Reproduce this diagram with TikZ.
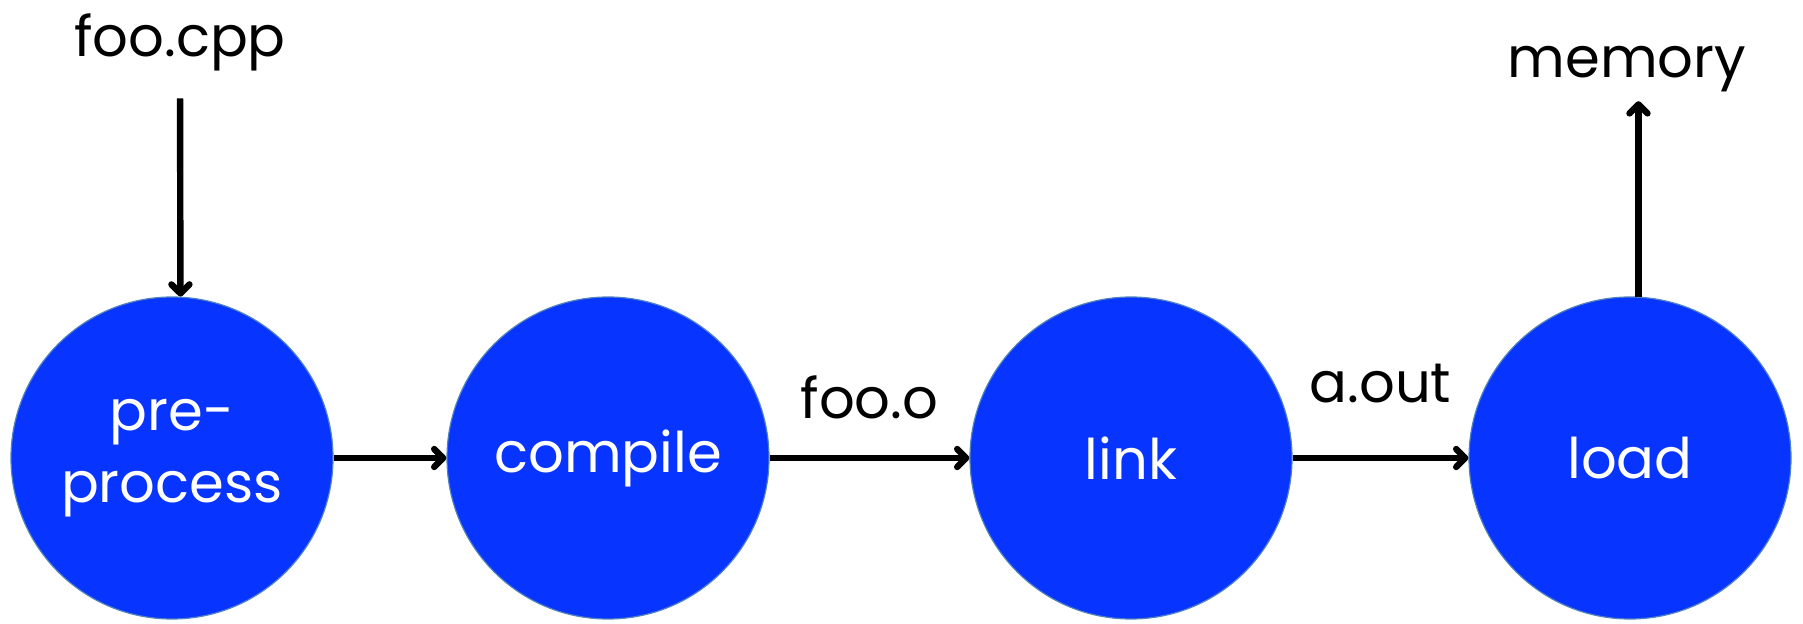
\documentclass[tikz,border=0pt]{standalone}
\usepackage{fontspec}
\setmainfont{Poppins}
\usetikzlibrary{arrows.meta}

\definecolor{stageblue}{RGB}{8,52,255}
\definecolor{stageedge}{RGB}{80,130,190}

\tikzset{every picture/.style={line width=0.75pt}}
\tikzset{
  stage/.style={circle, fill=stageblue, draw=stageedge, line width=0.6pt,
    minimum size=161pt, inner sep=0pt, text=white, align=center,
    font=\fontsize{28}{36}\selectfont},
  lbl/.style={font=\fontsize{28}{34}\selectfont, inner sep=2pt},
  flow/.style={draw=black, line width=3.2pt,
    -{Straight Barb[length=4.5pt,width=9pt,round]}}
}

\begin{document}
\begin{tikzpicture}[x=0.5pt,y=0.5pt,yscale=-1,xscale=1]
\useasboundingbox (0,0) rectangle (1803,624);

% the four stages
\node[stage] (pre)  at (172,458)  {pre-\\process};
\node[stage] (comp) at (608,458)  {compile};
\node[stage] (link) at (1131,458) {link};
\node[stage] (load) at (1630,458) {load};

% input and output
\node[lbl, anchor=base] (src) at (180,57) {foo.cpp};
\node[lbl, anchor=base] (mem) at (1627,78) {memory};

% arrows
\draw[flow, shorten <=11pt] (src.south) -- (pre.87);
\draw[flow] (pre.east) -- (comp.west);
\draw[flow] (comp.east) -- node[lbl, above=16pt] (objf) {foo.o} (link.west);
\draw[flow] (link.east) -- node[lbl, above=24pt] (exef) {a.out} (load.west);
\draw[flow, shorten >=2pt] (load.87) -- (load.87 |- mem.south);

\end{tikzpicture}
\end{document}
